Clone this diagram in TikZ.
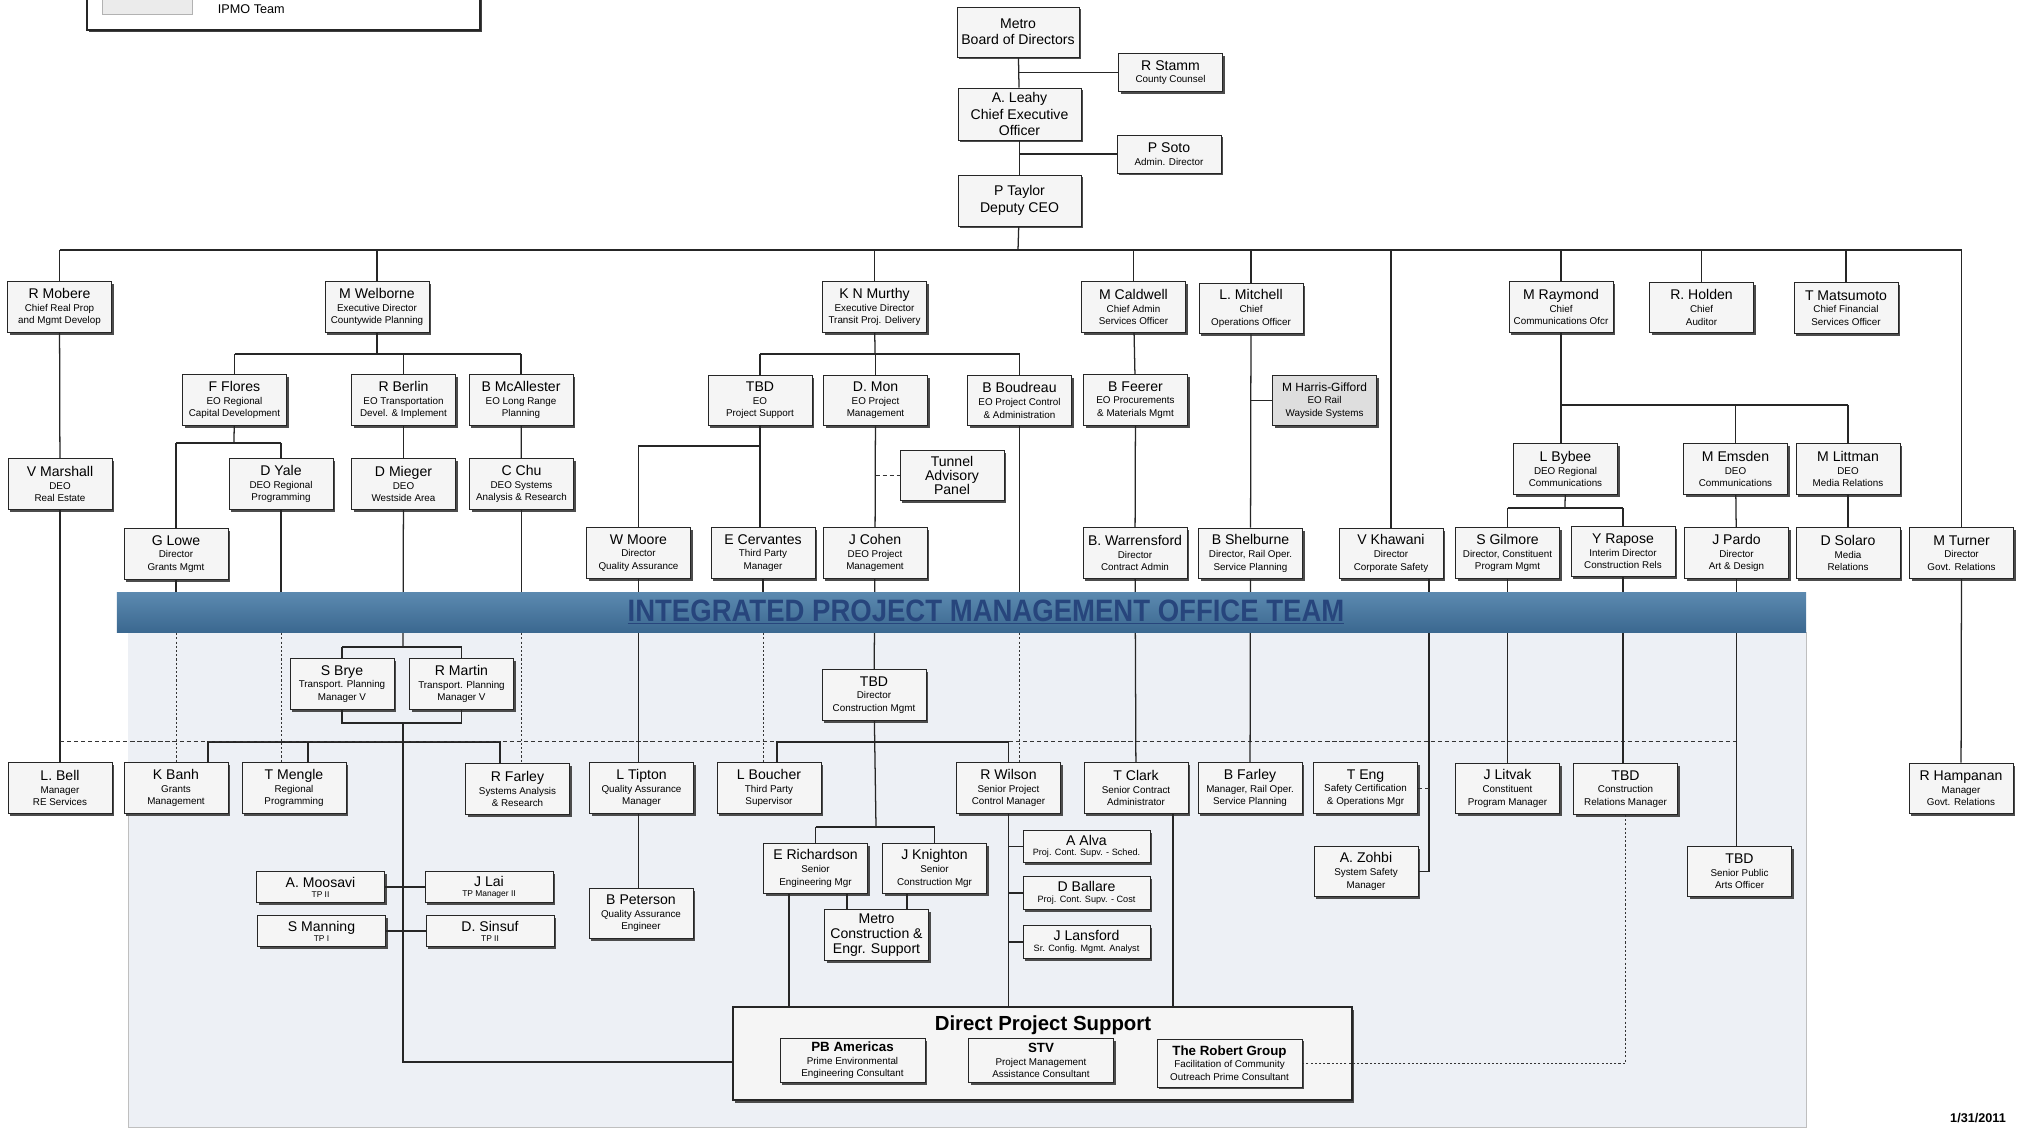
\documentclass[tikz,border=0pt]{standalone}
\usepackage{fontspec}
\setmainfont{Liberation Sans}
\usepackage{graphicx}
\usepackage{xcolor}
\usepackage{tikz}
\usetikzlibrary{shadows}

\definecolor{boxfill}{HTML}{F5F5F5}
\definecolor{tintfill}{HTML}{EDF0F5}
\definecolor{bandtop}{HTML}{5C8AB0}
\definecolor{bandmid}{HTML}{A9C7DE}
\definecolor{bandbot}{HTML}{3B6890}
\definecolor{bandtext}{HTML}{27457C}

% name line over a smaller title
\newcommand{\who}[2]{{\fontsize{10}{12}\selectfont #1}\\#2}
\newcommand{\corp}[2]{{\fontsize{9.5}{11}\selectfont\bfseries #1}\\#2}

\begin{document}
\begin{tikzpicture}[
  x=0.25mm, y=-0.25mm,
  every node/.style={align=center},
  person/.style={draw=black!85, line width=0.7pt, fill=boxfill, minimum width=26mm, minimum height=12.7mm,
    inner sep=0.5pt, font=\fontsize{7}{9}\selectfont,
    drop shadow={shadow xshift=0.6mm, shadow yshift=-0.6mm, fill=black!70, opacity=1}},
  big/.style={person, font=\fontsize{10}{11.6}\selectfont},
  small/.style={person, minimum width=32mm, minimum height=7.8mm, font=\fontsize{6}{7}\selectfont},
  support/.style={person, minimum width=31.75mm, minimum height=8.2mm, font=\fontsize{6.5}{7.5}\selectfont},
  firm/.style={person, minimum width=36.25mm, minimum height=10.8mm},
  link/.style={line width=0.9pt, black!85},
  dotlink/.style={line width=0.7pt, black!80, dash pattern=on 1.5pt off 1.5pt},
  dashlink/.style={line width=0.7pt, black!80, dash pattern=on 3pt off 2pt},
  band/.style={minimum width=422.25mm, minimum height=10mm, top color=bandtop, middle color=bandmid, bottom color=bandbot, draw=none}
]

\useasboundingbox (0,0) rectangle (2021,1130);
\clip (0,0) rectangle (2021,1130);
\fill[white] (0,0) rectangle (2021,1130);

% IPMO area
\fill[tintfill] (128,612) rectangle (1806,1128);
\draw[black!25, line width=0.4pt] (128,815) |- (1806,1127) -- (1806,632);

% legend (cut at the top)
\node[draw=black!85, line width=0.8pt, fill=white, minimum width=98.25mm, minimum height=12.5mm,
  drop shadow={shadow xshift=0.5mm, shadow yshift=-0.6mm, fill=black!75, opacity=1}] (legend) at (283.5,5) {};
\node[draw=black!30, fill=black!8, minimum width=22.5mm, minimum height=6mm] (swatch) at (147,2) {};
\node[font=\fontsize{9}{11}\selectfont, anchor=base west] (legendtext) at (213,14) {IPMO Team};

% executive chain
\node[big, minimum width=30.5mm, minimum height=12.5mm] (board) at (1018,32) {Metro\\Board of Directors};
\node[person, minimum height=9.3mm] (stamm) at (1170.5,72.5) {\who{R Stamm}{County Counsel}};
\node[big, minimum width=30.75mm, minimum height=13mm] (leahy) at (1019.5,114) {A. Leahy\\Chief Executive\\Officer};
\node[person, minimum height=9.5mm] (soto) at (1169,154) {\who{P Soto}{Admin. Director}};
\node[big, minimum width=30.75mm, minimum height=12.75mm] (taylor) at (1019.5,200.5) {P Taylor\\Deputy CEO};

% chiefs
\node[person] (mobere) at (59.5,307) {\who{R Mobere}{Chief Real Prop\\and Mgmt Develop}};
\node[person] (welborne) at (377,307) {\who{M Welborne}{Executive Director\\Countywide Planning}};
\node[person] (murthy) at (874.5,307) {\who{K N Murthy}{Executive Director\\Transit Proj. Delivery}};
\node[person] (caldwell) at (1133.5,307) {\who{M Caldwell}{Chief Admin\\Services Officer}};
\node[person] (mitchell) at (1251,308.5) {\who{L. Mitchell}{Chief\\Operations Officer}};
\node[person] (raymond) at (1561,307) {\who{M Raymond}{Chief\\Communications Ofcr}};
\node[person] (holden) at (1701.5,307.5) {\who{R. Holden}{Chief\\Auditor}};
\node[person] (matsumoto) at (1846,308) {\who{T Matsumoto}{Chief Financial\\Services Officer}};

% executive officers
\node[person] (flores) at (234.5,400) {\who{F Flores}{EO Regional\\Capital Development}};
\node[person] (berlin) at (403.5,400) {\who{R Berlin}{EO Transportation\\Devel. \& Implement}};
\node[person] (mcallester) at (521,400) {\who{B McAllester}{EO Long Range\\Planning}};
\node[person] (tbdeo) at (760,400.5) {\who{TBD}{EO\\Project Support}};
\node[person] (mon) at (875.5,400.5) {\who{D. Mon}{EO Project\\Management}};
\node[person] (boudreau) at (1019.5,400.5) {\who{B Boudreau}{EO Project Control\\\& Administration}};
\node[person] (feerer) at (1135.5,400) {\who{B Feerer}{EO Procurements\\\& Materials Mgmt}};
\node[person, fill=black!13] (harris) at (1324.5,400.5) {{\fontsize{8.5}{10}\selectfont M Harris-Gifford}\\EO Rail\\Wayside Systems};

% deputies
\node[person] (marshall) at (60,484) {\who{V Marshall}{DEO\\Real Estate}};
\node[person] (yale) at (281,484) {\who{D Yale}{DEO Regional\\Programming}};
\node[person] (mieger) at (403.5,484) {\who{D Mieger}{DEO\\Westside Area}};
\node[person] (chu) at (521.5,484) {\who{C Chu}{DEO Systems\\Analysis \& Research}};
\node[big, font=\fontsize{10}{9.8}\selectfont] (tunnel) at (952,475.5) {Tunnel\\Advisory\\Panel};
\node[person] (bybee) at (1565.5,469) {\who{L Bybee}{DEO Regional\\Communications}};
\node[person] (emsden) at (1735.5,469) {\who{M Emsden}{DEO\\Communications}};
\node[person] (littman) at (1848,469) {\who{M Littman}{DEO\\Media Relations}};

% directors
\node[person] (lowe) at (176,554) {\who{G Lowe}{Director\\Grants Mgmt}};
\node[person] (moore) at (638.5,553) {\who{W Moore}{Director\\Quality Assurance}};
\node[person] (cervantes) at (763,553) {\who{E Cervantes}{Third Party\\Manager}};
\node[person] (cohen) at (875,553) {\who{J Cohen}{DEO Project\\Management}};
\node[person] (warrensford) at (1135,553) {\who{B. Warrensford}{Director\\Contract Admin}};
\node[person] (shelburne) at (1250.5,553.5) {\who{B Shelburne}{Director, Rail Oper.\\Service Planning}};
\node[person] (khawani) at (1391,553.5) {\who{V Khawani}{Director\\Corporate Safety}};
\node[person] (gilmore) at (1507.5,553) {\who{S Gilmore}{Director, Constituent\\Program Mgmt}};
\node[person] (rapose) at (1623,551.5) {\who{Y Rapose}{Interim Director\\Construction Rels}};
\node[person] (pardo) at (1736.5,553) {\who{J Pardo}{Director\\Art \& Design}};
\node[person] (solaro) at (1848,553) {\who{D Solaro}{Media\\Relations}};
\node[person] (turner) at (1961.5,553) {\who{M Turner}{Director\\Govt. Relations}};

% below the band
\node[person] (brye) at (342,684) {\who{S Brye}{Transport. Planning\\Manager V}};
\node[person] (martin) at (461.5,684) {\who{R Martin}{Transport. Planning\\Manager V}};
\node[person] (tbdcm) at (874,695) {\who{TBD}{Director\\Construction Mgmt}};

\node[person] (bell) at (60,788) {\who{L. Bell}{Manager\\RE Services}};
\node[person] (banh) at (176,788) {\who{K Banh}{Grants\\Management}};
\node[person] (mengle) at (294,788) {\who{T Mengle}{Regional\\Programming}};
\node[person] (farley) at (517.5,789) {\who{R Farley}{Systems Analysis\\\& Research}};
\node[person] (tipton) at (641.5,788) {\who{L Tipton}{Quality Assurance\\Manager}};
\node[person] (boucher) at (769,788) {\who{L Boucher}{Third Party\\Supervisor}};
\node[person] (wilson) at (1008.5,788) {\who{R Wilson}{Senior Project\\Control Manager}};
\node[person] (clark) at (1136,788) {\who{T Clark}{Senior Contract\\Administrator}};
\node[person] (bfarley) at (1250,788) {\who{B Farley}{Manager, Rail Oper.\\Service Planning}};
\node[person] (eng) at (1365.5,788) {\who{T Eng}{Safety Certification\\\& Operations Mgr}};
\node[person] (litvak) at (1507.5,788.5) {\who{J Litvak}{Constituent\\Program Manager}};
\node[person] (tbdcrm) at (1625.5,789) {\who{TBD}{Construction\\Relations Manager}};
\node[person] (hampanan) at (1961,788.5) {\who{R Hampanan}{Manager\\Govt. Relations}};

\node[small] (moosavi) at (320.5,887) {\who{A. Moosavi}{TP II}};
\node[small] (lai) at (489,887) {\who{J Lai}{TP Manager II}};
\node[small] (manning) at (321.5,931) {\who{S Manning}{TP I}};
\node[small] (sinsuf) at (490,931) {\who{D. Sinsuf}{TP II}};
\node[person] (peterson) at (641,913.5) {\who{B Peterson}{Quality Assurance\\Engineer}};
\node[person] (richardson) at (815.5,868.5) {\who{E Richardson}{Senior\\Engineering Mgr}};
\node[person] (knighton) at (934.5,868.5) {\who{J Knighton}{Senior\\Construction Mgr}};
\node[big, font=\fontsize{10}{10.4}\selectfont] (mces) at (876.5,935) {Metro\\Construction \&\\Engr. Support};
\node[support] (alva) at (1086.5,846.5) {\who{A Alva}{Proj. Cont. Supv. - Sched.}};
\node[support] (ballare) at (1086.5,893) {\who{D Ballare}{Proj. Cont. Supv. - Cost}};
\node[support] (lansford) at (1086.5,942) {\who{J Lansford}{Sr. Config. Mgmt. Analyst}};
\node[person] (zohbi) at (1366,871.5) {\who{A. Zohbi}{System Safety\\Manager}};
\node[person] (tbdspao) at (1739.5,871.5) {\who{TBD}{Senior Public\\Arts Officer}};

% consultants
\node[draw=black!85, line width=0.9pt, fill=boxfill, minimum width=154.75mm, minimum height=23.25mm,
  drop shadow={shadow xshift=0.6mm, shadow yshift=-0.7mm, fill=black!70, opacity=1}] (dps) at (1042.5,1053.5) {};
\node[font=\fontsize{14.5}{16}\selectfont\bfseries] (dpstitle) at (1043,1025) {Direct Project Support};
\node[firm] (pb) at (852.5,1060.5) {\corp{PB Americas}{Prime Environmental\\Engineering Consultant}};
\node[firm] (stv) at (1041,1060.5) {\corp{STV}{Project Management\\Assistance Consultant}};
\node[firm, minimum height=12mm] (trg) at (1229.5,1063) {\corp{The Robert Group}{Facilitation of Community\\Outreach Prime Consultant}};

\node[font=\fontsize{9}{11}\selectfont\bfseries] (date) at (1978,1118) {1/31/2011};

% bus levels
\coordinate (topbus) at (1018,250);
\coordinate (wbus) at (377,354);
\coordinate (fbus) at (234,443);
\coordinate (kbus) at (875,354);
\coordinate (tbus) at (760,446);
\coordinate (rbus) at (1561,405);
\coordinate (lbus) at (1565,508);
\coordinate (sbus) at (403,647);
\coordinate (sbot) at (403,723);
\coordinate (lowbus) at (403,742);
\coordinate (cbus) at (876,742);
\coordinate (ebus) at (876,827);
\coordinate (dotbus) at (60,741);
\coordinate (bandline) at (0,612);
\coordinate (dpsrow) at (403,1062);

% executive
\draw[link] (board) -- (leahy);
\draw[link] (leahy) -- (taylor);
\draw[link] (taylor) -- (topbus);
\draw[link] (stamm) -- (stamm -| board);
\draw[link] (soto) -- (soto -| leahy);
\draw[link] (mobere |- topbus) -- (turner |- topbus);
\foreach \n in {mobere,welborne,murthy,caldwell,mitchell,khawani,raymond,holden,matsumoto,turner}
  \draw[link] (\n |- topbus) -- (\n);

% real estate and planning
\draw[link] (mobere) -- (marshall);
\draw[link] (marshall) -- (bell);
\draw[link] (welborne) -- (wbus);
\draw[link] (flores |- wbus) -- (mcallester |- wbus);
\foreach \n in {flores,berlin,mcallester}
  \draw[link] (\n |- wbus) -- (\n);
\draw[link] (flores) -- (fbus);
\draw[link] (lowe |- fbus) -- (yale |- fbus);
\foreach \n in {lowe,yale}
  \draw[link] (\n |- fbus) -- (\n);
\draw[link] (berlin) -- (mieger);
\draw[link] (mcallester) -- (chu);
\draw[link] (mieger) -- (sbus);
\draw[link] (brye |- sbus) -- (martin |- sbus);
\foreach \n in {brye,martin}
  \draw[link] (\n |- sbus) -- (\n);
\draw[link] (brye) -- (brye |- sbot) -- (martin |- sbot) -- (martin);
\draw[link] (sbot) -- (dpsrow) -- (dpsrow -| dps.west);
\draw[link] ([xshift=8mm]banh.north) |- (lowbus) -| ([xshift=-4.4mm]farley.north);
\draw[link] ([xshift=3.5mm]mengle.north) -- ([xshift=3.5mm]mengle.north |- lowbus);
\draw[link] (moosavi) -- (lai);
\draw[link] (manning) -- (sinsuf);

% dotted reporting lines
\draw[dashlink] (dotbus) -- (dotbus -| pardo);
\foreach \a/\b in {lowe/banh,yale/mengle,chu/farley,cervantes/boucher,boudreau/wilson} {
  \draw[link] (\a) -- (\a |- bandline);
  \draw[dotlink] (\a |- bandline) -- (\a |- \b.north);
}

% project delivery
\draw[link] (murthy) -- (kbus);
\draw[link] (tbdeo |- kbus) -- (boudreau |- kbus);
\foreach \n in {tbdeo,mon,boudreau}
  \draw[link] (\n |- kbus) -- (\n);
\draw[link] (tbdeo) -- (tbdeo |- cervantes.north);
\draw[link] (tbus) -| (moore);
\draw[link] (moore.south) -- (moore.south |- tipton.north);
\draw[link] (moore.south |- tipton.south) -- (moore.south |- peterson.north);
\draw[link] (mon) -- (cohen);
\draw[dashlink] (mon |- tunnel) -- (tunnel);
\draw[link] (cohen) -- (tbdcm);
\draw[link] (tbdcm) -- (ebus);
\draw[link] ([xshift=2mm]boucher.north) |- (cbus) -| (wilson);
\draw[link] (richardson |- ebus) -- (knighton |- ebus);
\foreach \n in {richardson,knighton}
  \draw[link] (\n |- ebus) -- (\n);
\draw[link] ([xshift=7.9mm]richardson.south) -- ([xshift=7.9mm]richardson.south |- mces.north);
\draw[link] ([xshift=-6.9mm]knighton.south) -- ([xshift=-6.9mm]knighton.south |- mces.north);
\draw[link] ([xshift=-6.6mm]richardson.south) -- ([xshift=-6.6mm]richardson.south |- dps.north);
\draw[link] (wilson) -- (wilson |- dps.north);
\foreach \n in {alva,ballare,lansford}
  \draw[link] (wilson |- \n) -- (\n);

% admin and operations
\draw[link] (caldwell) -- (feerer);
\draw[link] (feerer) -- (warrensford);
\draw[link] (warrensford) -- (clark);
\draw[link] ([xshift=9.25mm]clark.south) -- ([xshift=9.25mm]clark.south |- dps.north);
\draw[link] (mitchell) -- (shelburne);
\draw[link] (shelburne) -- (bfarley);
\draw[link] (mitchell |- harris) -- (harris);
\draw[link] ([xshift=9.5mm]khawani.south) |- (zohbi);
\draw[dashlink] (eng.east) -- ([xshift=9.5mm]khawani.south |- eng.east);

% communications
\draw[link] (raymond) -- (raymond |- bybee.north);
\draw[link] (raymond |- rbus) -- (littman |- rbus);
\foreach \n in {emsden,littman}
  \draw[link] (\n |- rbus) -- (\n);
\draw[link] (bybee) -- (lbus);
\draw[link] (gilmore |- lbus) -- (rapose |- lbus);
\foreach \n in {gilmore,rapose}
  \draw[link] (\n |- lbus) -- (\n);
\draw[link] (gilmore) -- (litvak);
\draw[link] (rapose.south) -- (rapose.south |- tbdcrm.north);
\draw[dotlink] (tbdcrm) |- (trg);
\draw[link] (emsden) -- (pardo);
\draw[link] (pardo.south) -- (pardo.south |- tbdspao.north);
\draw[link] (littman) -- (solaro);
\draw[link] (turner) -- (hampanan);

% IPMO band over the lines
\node[band] (ipmo) at (961.5,612) {};
\node[font=\fontsize{22}{24}\selectfont\bfseries, text=bandtext] (ipmotext) at (986,612)
  {\scalebox{0.89}[1]{\underline{INTEGRATED PROJECT MANAGEMENT OFFICE TEAM}}};

\end{tikzpicture}
\end{document}
